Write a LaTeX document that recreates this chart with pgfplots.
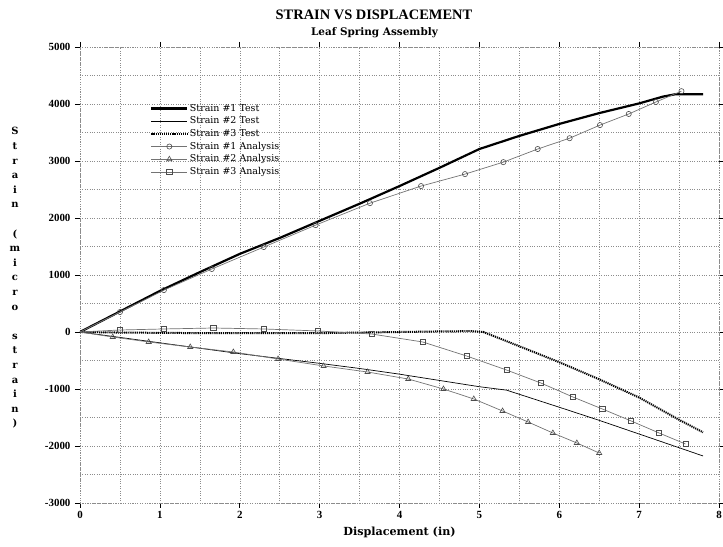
\documentclass[border=0pt]{standalone}
\usepackage{fontspec}
\setmainfont{Liberation Serif}
\newfontfamily\dvs{DejaVu Serif}
\usepackage{pgfplots}
\pgfplotsset{compat=1.18}
\usetikzlibrary{calc}
\definecolor{anagray}{gray}{0.45}
\definecolor{gridgray}{gray}{0.55}

\begin{document}
\begin{tikzpicture}
\begin{axis}[
  scale only axis, width=639bp, height=456bp,
  xmin=0, xmax=8, ymin=-3000, ymax=5000,
  xtick={0,1,...,8}, ytick={-3000,-2000,...,5000},
  minor xtick={0.5,1.5,...,7.5}, minor ytick={-2500,-1500,...,4500},
  grid=both, grid style={gridgray, dotted, line width=0.5pt},
  axis line style={gridgray, dotted, line width=0.5pt},
  tick align=outside, major tick length=5bp, minor tick length=0pt,
  tick style={black, solid, line width=0.6pt},
  /pgf/number format/assume math mode=true,
  scaled ticks=false, /pgf/number format/set thousands separator={},
  ticklabel style={font=\bfseries\fontsize{11}{12}\selectfont},
  yticklabel style={xshift=-1bp},
  legend style={draw=none, fill=none, at={(0.105,0.884)}, anchor=north west,
    font=\dvs\fontsize{9.5}{11}\selectfont, row sep=0pt,
    nodes={inner ysep=1.5bp, inner xsep=1.5bp, text height=7.5bp, text depth=2.2bp}},
  legend cell align=left,
  legend image code/.code={\draw[#1, mark indices={2}] plot coordinates {(0bp,0bp) (18bp,0bp) (36bp,0bp)};},
]
% Strain #1 Test
\addplot[black, line width=2.2bp] coordinates {
  (0,0)(0.5,360)(1,720)(1.5,1050)(2,1370)(2.5,1650)(3,1950)(3.5,2250)(4,2560)
  (4.5,2880)(5,3210)(5.5,3440)(6,3650)(6.5,3840)(7,4010)(7.3,4130)(7.45,4170)(7.8,4170)};
\addlegendentry{Strain \#1 Test}
% Strain #2 Test
\addplot[black, line width=0.7bp] coordinates {
  (0,0)(1,-190)(2,-380)(3,-550)(3.5,-640)(4,-740)(4.5,-850)(5,-960)(5.34,-1020)
  (6,-1320)(6.5,-1550)(7,-1790)(7.5,-2030)(7.8,-2175)};
\addlegendentry{Strain \#2 Test}
% Strain #3 Test
\addplot[black, line width=2bp, dash pattern=on 1.2bp off 0.9bp] coordinates {
  (0,0)(0.5,-10)(1,-15)(1.5,-20)(2,-20)(2.5,-20)(3,-20)(3.5,-10)(4,0)(4.5,10)
  (4.9,15)(5.05,0)(5.5,-250)(6,-530)(6.5,-830)(7,-1150)(7.5,-1540)(7.8,-1760)};
\addlegendentry{Strain \#3 Test}
% Strain #1 Analysis
\addplot[anagray, line width=0.7bp, mark=o, mark size=2.6bp, mark indices={2,...,16},
  mark options={black!70, solid, line width=0.6bp}] coordinates {
  (0,0)(0.5,350)(1.05,735)(1.65,1105)(2.3,1490)(2.95,1875)(3.63,2260)(4.27,2560)
  (4.82,2770)(5.3,2980)(5.73,3210)(6.13,3400)(6.51,3630)(6.87,3825)(7.21,4035)(7.53,4225)};
\addlegendentry{Strain \#1 Analysis}
% Strain #2 Analysis
\addplot[anagray, line width=0.7bp, mark=triangle, mark size=3bp, mark indices={2,...,16},
  mark options={black!70, solid, line width=0.6bp}] coordinates {
  (0,0)(0.41,-88)(0.86,-175)(1.38,-263)(1.92,-351)(2.48,-474)(3.05,-596)(3.6,-702)
  (4.11,-825)(4.55,-1000)(4.93,-1175)(5.29,-1386)(5.61,-1579)(5.92,-1772)(6.22,-1947)(6.5,-2123)};
\addlegendentry{Strain \#2 Analysis}
% Strain #3 Analysis
\addplot[anagray, line width=0.7bp, mark=square, mark size=2.6bp, mark indices={2,...,16},
  mark options={black!70, solid, line width=0.6bp}] coordinates {
  (0,0)(0.5,35)(1.05,53)(1.67,70)(2.3,53)(2.98,18)(3.65,-35)(4.29,-175)
  (4.84,-421)(5.34,-667)(5.77,-895)(6.17,-1140)(6.54,-1351)(6.9,-1561)(7.25,-1772)(7.58,-1965)};
\addlegendentry{Strain \#3 Analysis}
\end{axis}

\node[font=\bfseries\fontsize{14.5}{16}\selectfont] at ($(current axis.north)+(-25.5bp,32bp)$) {STRAIN VS DISPLACEMENT};
\node[font=\dvs\bfseries\fontsize{10.5}{12}\selectfont] at ($(current axis.north)+(-25bp,14bp)$) {Leaf Spring Assembly};
\node[font=\dvs\bfseries\fontsize{11.2}{13}\selectfont] at ($(current axis.south)+(0,-29bp)$) {Displacement (in)};
\node[font=\dvs\bfseries\fontsize{10}{14.65}\selectfont, align=center] at ($(current axis.west)+(-65bp,-3bp)$)
  {S\\t\\r\\a\\i\\n\\[14.65bp]( \\m\\i\\c\\r\\o\\[14.65bp]s\\t\\r\\a\\i\\n\\)};

\pgfresetboundingbox
\path ($(current axis.south west)+(-80bp,-44bp)$) rectangle ($(current axis.north east)+(4bp,47bp)$);
\end{tikzpicture}
\end{document}
